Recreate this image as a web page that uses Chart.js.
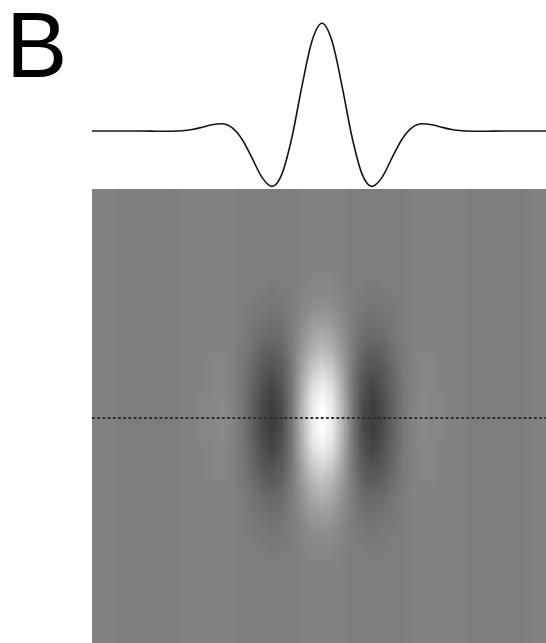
<!DOCTYPE html>
<html>
<head>
<meta charset="utf-8">
<script src="https://cdn.jsdelivr.net/npm/chart.js@4.4.1/dist/chart.umd.min.js"></script>
<style>
  html, body { margin: 0; padding: 0; overflow: hidden; background: #ffffff; width: 546px; height: 643px; }
  #profileBox { position: absolute; left: 0; top: 0; width: 552px; height: 189px; }
  #mapBox { position: absolute; left: 92px; top: 189px; width: 460px; height: 458px; }
</style>
</head>
<body>
<div id="profileBox"><canvas id="profile"></canvas></div>
<div id="mapBox"><canvas id="map"></canvas></div>
<script>
// Sample positions (same grid for horizontal and vertical axes)
const positions = [
  -2.3, -2.2, -2.1, -2.0, -1.9, -1.8, -1.7, -1.6, -1.5, -1.4, -1.3, -1.2,
  -1.1, -1.0, -0.9, -0.8, -0.7, -0.6, -0.5, -0.4, -0.3, -0.2, -0.1, 0.0,
  0.1, 0.2, 0.3, 0.4, 0.5, 0.6, 0.7, 0.8, 0.9, 1.0, 1.1, 1.2,
  1.3, 1.4, 1.5, 1.6, 1.7, 1.8, 1.9, 2.0, 2.1, 2.2, 2.3
];

// Horizontal receptive-field profile (cross-section along the dotted line)
const profileX = [
  0.0000049, 0.0000118, 0.000017, -0.0000066, -0.00014, -0.0005, -0.0012, -0.0021,
  -0.0018, 0.0022, 0.0137, 0.0345, 0.0587, 0.0676, 0.0313, -0.0762,
  -0.2498, -0.4309, -0.5145, -0.3983, -0.0554, 0.4194, 0.8349, 1.0,
  0.8349, 0.4194, -0.0554, -0.3983, -0.5145, -0.4309, -0.2498, -0.0762,
  0.0313, 0.0676, 0.0587, 0.0345, 0.0137, 0.0022, -0.0018, -0.0021,
  -0.0012, -0.0005, -0.00014, -0.0000066, 0.000017, 0.0000118, 0.0000049
];

// Vertical envelope of the receptive field
const envelopeY = [
  0.00016, 0.00034, 0.00068, 0.00134, 0.00256, 0.00472, 0.00842, 0.0145,
  0.0243, 0.0392, 0.0612, 0.0926, 0.1353, 0.1915, 0.2622, 0.3472,
  0.4449, 0.5516, 0.6615, 0.7676, 0.8618, 0.9360, 0.9836, 1.0,
  0.9836, 0.9360, 0.8618, 0.7676, 0.6615, 0.5516, 0.4449, 0.3472,
  0.2622, 0.1915, 0.1353, 0.0926, 0.0612, 0.0392, 0.0243, 0.0145,
  0.00842, 0.00472, 0.00256, 0.00134, 0.00068, 0.00034, 0.00016
];

const panelLabel = 'B';
const xRange = [-2.3, 2.3];
const profileRange = [-0.5385, 1.2164];
const mapYRange = [-2.29, 2.29];

// 64-step gray colormap, -1 -> black, +1 -> white
function grayLevel(v) {
  let level = Math.floor((v + 1) / 2 * 64);
  level = Math.max(0, Math.min(63, level));
  return Math.round(level * 255 / 63);
}

// Panel letter in the top-left corner
const panelLabelPlugin = {
  id: 'panelLabel',
  afterDraw(chart) {
    const ctx = chart.ctx;
    ctx.save();
    ctx.fillStyle = '#000000';
    ctx.font = "92px 'Liberation Sans', Arial, sans-serif";
    ctx.textBaseline = 'alphabetic';
    ctx.textAlign = 'left';
    ctx.fillText(panelLabel, 6, 77);
    ctx.restore();
  }
};

// Top panel: 1-D profile
new Chart(document.getElementById('profile'), {
  type: 'line',
  data: {
    datasets: [{
      data: positions.map((p, i) => ({ x: p, y: profileX[i] })),
      borderColor: '#141414',
      borderWidth: 1.6,
      pointRadius: 0,
      fill: false,
      cubicInterpolationMode: 'monotone'
    }]
  },
  options: {
    responsive: true,
    maintainAspectRatio: false,
    animation: false,
    devicePixelRatio: 1,
    layout: { padding: { left: 92, right: 0, top: 0, bottom: 0 } },
    plugins: { legend: { display: false }, tooltip: { enabled: false }, title: { display: false } },
    scales: {
      x: { type: 'linear', min: xRange[0], max: xRange[1], display: false },
      y: { type: 'linear', min: profileRange[0], max: profileRange[1], display: false }
    }
  },
  plugins: [panelLabelPlugin]
});

// Bottom panel: 2-D receptive field map drawn as an image under the datasets
const fieldMapPlugin = {
  id: 'fieldMap',
  beforeDatasetsDraw(chart) {
    const n = positions.length;
    if (!chart.$fieldImage) {
      const off = document.createElement('canvas');
      off.width = n; off.height = n;
      const octx = off.getContext('2d');
      const img = octx.createImageData(n, n);
      for (let r = 0; r < n; r++) {
        const env = envelopeY[n - 1 - r];
        for (let c = 0; c < n; c++) {
          const g = grayLevel(env * profileX[c]);
          const k = (r * n + c) * 4;
          img.data[k] = g; img.data[k + 1] = g; img.data[k + 2] = g; img.data[k + 3] = 255;
        }
      }
      octx.putImageData(img, 0, 0);
      chart.$fieldImage = off;
    }
    const { ctx, chartArea, scales } = chart;
    const half = (positions[1] - positions[0]) / 2;
    const x0 = scales.x.getPixelForValue(positions[0] - half);
    const x1 = scales.x.getPixelForValue(positions[n - 1] + half);
    const y0 = scales.y.getPixelForValue(positions[n - 1] + half);
    const y1 = scales.y.getPixelForValue(positions[0] - half);
    ctx.save();
    ctx.beginPath();
    ctx.rect(chartArea.left, chartArea.top, chartArea.right - chartArea.left, chartArea.bottom - chartArea.top);
    ctx.clip();
    ctx.imageSmoothingEnabled = true;
    ctx.imageSmoothingQuality = 'low';
    ctx.drawImage(chart.$fieldImage, 0, 0, n, n, x0, y0, x1 - x0, y1 - y0);
    ctx.restore();
  }
};

new Chart(document.getElementById('map'), {
  type: 'line',
  data: {
    datasets: [{
      // dotted guide marking where the top profile is taken
      data: [{ x: xRange[0], y: 0 }, { x: xRange[1], y: 0 }],
      borderColor: '#2e2e2e',
      borderWidth: 1.8,
      borderDash: [2.8, 2.4],
      pointRadius: 0,
      fill: false
    }]
  },
  options: {
    responsive: true,
    maintainAspectRatio: false,
    animation: false,
    devicePixelRatio: 1,
    layout: { padding: 0 },
    plugins: { legend: { display: false }, tooltip: { enabled: false }, title: { display: false } },
    scales: {
      x: { type: 'linear', min: xRange[0], max: xRange[1], display: false },
      y: { type: 'linear', min: mapYRange[0], max: mapYRange[1], display: false }
    }
  },
  plugins: [fieldMapPlugin]
});
</script>
</body>
</html>
